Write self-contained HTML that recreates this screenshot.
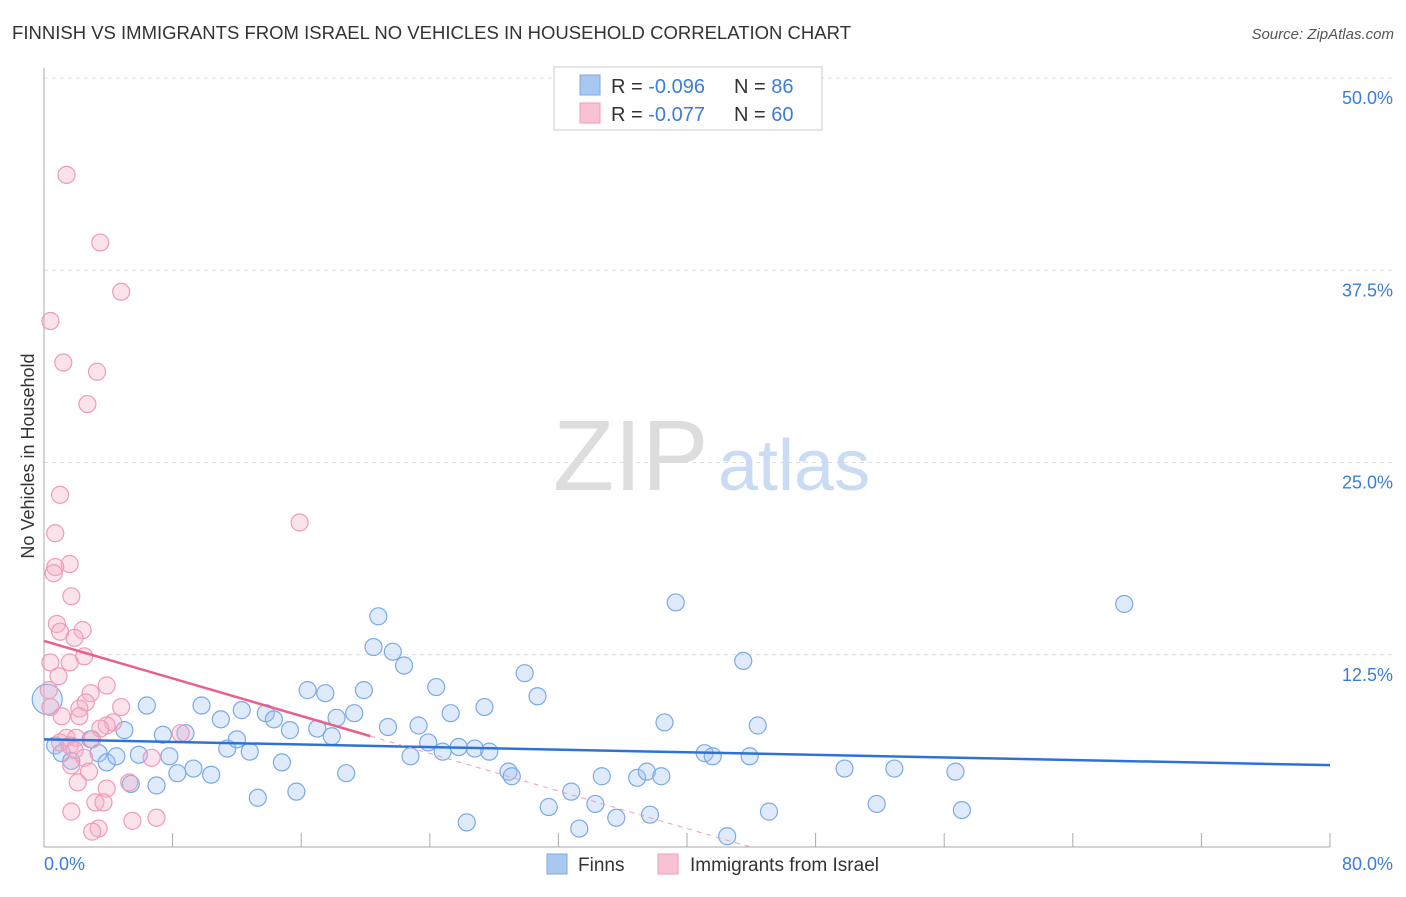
<!DOCTYPE html>
<html><head><meta charset="utf-8"><style>
body{margin:0;background:#fff;font-family:"Liberation Sans",sans-serif;}
svg text{font-family:"Liberation Sans",sans-serif;}
</style></head><body>
<svg id="chart" width="1406" height="892" viewBox="0 0 1406 892" xmlns="http://www.w3.org/2000/svg">
<text x="12" y="39" font-size="18.5" fill="#333" textLength="839">FINNISH VS IMMIGRANTS FROM ISRAEL NO VEHICLES IN HOUSEHOLD CORRELATION CHART</text>
<text x="1394" y="39" font-size="15" fill="#555" font-style="italic" text-anchor="end">Source: ZipAtlas.com</text>
<g id="grid"></g>
<g id="axes"></g>
<text x="553" y="490" font-size="100" fill="#ddd" font-family="Liberation Serif">ZIP</text>
<text x="718" y="490" font-size="72" fill="#c9dcf3">atlas</text>
<g id="pts"></g>
<g id="lines"></g>
<text transform="translate(34,456) rotate(-90)" font-size="18" fill="#333" text-anchor="middle">No Vehicles in Household</text>
<g>
<rect x="554" y="67" width="268" height="63" fill="#fff" stroke="#ccc"/>
<rect x="580" y="75" width="20" height="20" fill="#a9c8f0" stroke="#7aaae6"/>
<rect x="580" y="103" width="20" height="20" fill="#f7c3d4" stroke="#f09ab8"/>
<text x="611" y="93" font-size="20" fill="#333">R = <tspan fill="#3b7dd8">-0.096</tspan></text>
<text x="734" y="93" font-size="20" fill="#333">N = <tspan fill="#3b7dd8">86</tspan></text>
<text x="611" y="121" font-size="20" fill="#333">R = <tspan fill="#3b7dd8">-0.077</tspan></text>
<text x="734" y="121" font-size="20" fill="#333">N = <tspan fill="#3b7dd8">60</tspan></text>
</g>
<g>
<rect x="547" y="854" width="20" height="20" fill="#a9c8f0" stroke="#7aaae6"/>
<text x="578" y="871" font-size="19" fill="#333">Finns</text>
<rect x="658" y="854" width="20" height="20" fill="#f7c3d4" stroke="#f09ab8"/>
<text x="690" y="871" font-size="19" fill="#333">Immigrants from Israel</text>
</g>
</svg>
<script>
const yTicks=[12.5,25,37.5,50];
const yTickLabels=["12.5%","25.0%","37.5%","50.0%"];
const xTickCount=10;
const finnsX=[0.2,0.7,1.1,1.7,2.9,3.4,3.9,4.5,5.0,5.4,5.9,6.4,7.0,7.4,7.8,8.3,8.8,9.3,9.8,10.4,11.0,11.4,12.0,12.3,12.8,13.3,13.8,14.3,14.8,15.3,15.7,16.4,17.0,17.5,17.9,18.2,18.8,19.3,19.9,20.8,20.5,21.4,21.7,22.4,22.8,23.3,23.9,24.4,24.8,25.3,25.8,26.3,26.8,27.4,27.7,28.9,29.1,29.9,30.7,31.4,32.8,33.3,34.3,34.7,35.6,36.9,37.5,37.7,38.4,38.6,39.3,41.1,41.6,42.5,43.5,43.9,44.4,45.1,49.8,51.8,52.9,56.7,57.1,67.2];
const finnsY=[9.6,6.6,6.1,5.6,7.0,6.1,5.5,5.9,7.6,4.1,6.0,9.2,4.0,7.3,5.9,4.8,7.4,5.1,9.2,4.7,8.3,6.4,7.0,8.9,6.2,3.2,8.7,8.3,5.5,7.6,3.6,10.2,7.7,10.0,7.2,8.4,4.8,8.7,10.2,15.0,13.0,7.8,12.7,11.8,5.9,7.9,6.8,10.4,6.2,8.7,6.5,1.6,6.4,9.1,6.2,4.9,4.6,11.3,9.8,2.6,3.6,1.2,2.8,4.6,1.9,4.5,4.9,2.1,4.6,8.1,15.9,6.1,5.9,0.7,12.1,5.9,7.9,2.3,5.1,2.8,5.1,4.9,2.4,15.8];
const israelX=[1.4,3.5,4.8,0.4,1.2,3.3,2.7,1.0,15.9,0.7,1.6,0.7,0.6,1.7,0.8,1.0,2.4,1.9,2.5,1.6,0.4,0.9,3.9,0.3,2.9,0.4,2.6,2.2,4.8,1.1,2.2,4.3,3.9,3.5,8.5,1.4,2.0,1.0,1.6,3.0,1.9,2.5,6.7,1.7,2.8,5.3,2.1,3.9,3.2,1.7,3.7,5.5,7.0,3.4,3.0];
const israelY=[43.7,39.3,36.1,34.2,31.5,30.9,28.8,22.9,21.1,20.4,18.4,18.2,17.8,16.3,14.5,14.0,14.1,13.6,12.4,12.0,12.0,11.1,10.5,10.2,10.0,9.1,9.4,9.0,9.1,8.5,8.5,8.1,7.9,7.7,7.4,7.1,7.1,6.8,6.6,7.0,6.3,5.8,5.8,5.3,4.9,4.2,4.2,3.8,2.9,2.3,2.9,1.7,1.9,1.2,1.0];
const finnsTrend=[7.0,-0.021];
const israelTrend=[13.4,-0.305];
const israelSolidEnd=20.3;

const NS="http://www.w3.org/2000/svg";
const X0=44,X1=1330,Y0=847,YTOP=78;
const sx=v=>X0+(v/80)*(X1-X0);
const sy=v=>Y0-(v/50)*(Y0-YTOP);
function mk(t,a,p){const e=document.createElementNS(NS,t);for(const k in a)e.setAttribute(k,a[k]);p.appendChild(e);return e;}
const grid=document.getElementById('grid'),axes=document.getElementById('axes');
yTicks.forEach((t,i)=>{
 const l=mk('line',{x1:X0,x2:1394,y1:sy(t),y2:sy(t),stroke:'#ddd','stroke-dasharray':'4,4'},grid);
 
 
 const tx=mk('text',{x:1393,y:sy(t)+26,'font-size':18,fill:'#3b7dd8','text-anchor':'end'},axes);
 tx.textContent=yTickLabels[i];
 
 
});
mk('line',{x1:X0,x2:X0,y1:68,y2:Y0,stroke:'#aaa'},axes);
mk('line',{x1:X0,x2:X1,y1:Y0,y2:Y0,stroke:'#aaa'},axes);
for(let i=1;i<=xTickCount;i++){const x=sx(i*8);mk('line',{x1:x,x2:x,y1:Y0-14,y2:Y0,stroke:'#aaa'},axes);}
const xl0=mk('text',{x:44,y:870,'font-size':18,fill:'#3b7dd8'},axes);xl0.textContent='0.0%';


const xl1=mk('text',{x:1393,y:870,'font-size':18,fill:'#3b7dd8','text-anchor':'end'},axes);xl1.textContent='80.0%';


const pts=document.getElementById('pts');
finnsX.forEach((x,i)=>{
 const c=mk('circle',{cx:sx(x),cy:sy(finnsY[i]),r:i===0?15:8.5,fill:'rgba(163,196,240,0.35)',stroke:'#7aaae6','stroke-width':1.2},pts);
 
 
});
israelX.forEach((x,i)=>{
 const c=mk('circle',{cx:sx(x),cy:sy(israelY[i]),r:8.5,fill:'rgba(244,175,200,0.35)',stroke:'#f09ab8','stroke-width':1.2},pts);
 
 
});
const lines=document.getElementById('lines');
const fl=mk('line',{x1:sx(0),y1:sy(finnsTrend[0]),x2:sx(80),y2:sy(finnsTrend[0]+80*finnsTrend[1]),stroke:'#2f72d6','stroke-width':2.5},lines);


const il=mk('line',{x1:sx(0),y1:sy(israelTrend[0]),x2:sx(israelSolidEnd),y2:sy(israelTrend[0]+israelSolidEnd*israelTrend[1]),stroke:'#e8608c','stroke-width':2.5},lines);


const zx=-israelTrend[0]/israelTrend[1];
const id=mk('line',{x1:sx(israelSolidEnd),y1:sy(israelTrend[0]+israelSolidEnd*israelTrend[1]),x2:sx(zx),y2:sy(0),stroke:'#e8a0b8','stroke-width':1,'stroke-dasharray':'5,5'},lines);


</script>
</body></html>
